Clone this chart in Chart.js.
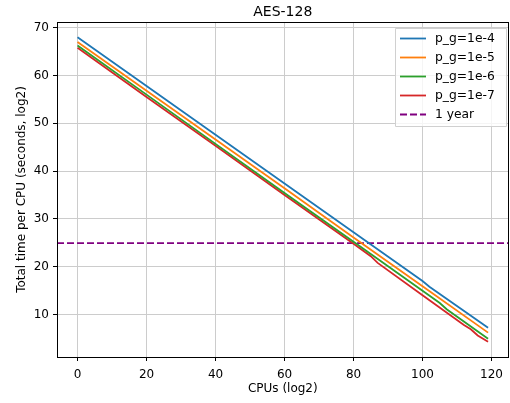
<!DOCTYPE html>
<html>
<head>
<meta charset="utf-8">
<script src="https://cdn.jsdelivr.net/npm/chart.js@4.4.0/dist/chart.umd.min.js"></script>
<style>
  html, body { margin: 0; padding: 0; background: #fff; }
  #wrap { width: 510px; height: 403px; }
</style>
</head>
<body>
<div id="wrap"><canvas id="myChart" width="510" height="403"></canvas></div>
<script>
// values
var labels = ['p_g=1e-4', 'p_g=1e-5', 'p_g=1e-6', 'p_g=1e-7']
var colors = ['#1f77b4', '#ff7f0e', '#2ca02c', '#d62728']

var blueX = [0, 20, 40, 60, 80, 100, 102, 119]
var blueY = [68.0, 57.8, 47.6, 37.4, 27.2, 17.0, 15.8, 7.2]

var orangeX = [0, 20, 40, 60, 80, 100, 119]
var orangeY = [67.0, 56.8, 46.6, 36.4, 26.1, 15.9, 6.2]

var greenX = [0, 20, 40, 60, 80, 105, 107, 119]
var greenY = [66.3, 56.0, 45.7, 35.4, 25.2, 12.4, 11.1, 4.9]

var redX = [0, 20, 40, 60, 80, 85, 87, 100, 112, 114, 116, 119]
var redY = [65.8, 55.5, 45.3, 35.0, 24.8, 22.2, 20.8, 14.0, 7.8, 6.9, 5.6, 4.3]

var yearLabel = '1 year'
var yearValue = 24.91   // log2(seconds in a year)

var xTicks = [0, 20, 40, 60, 80, 100, 120]
var yTicks = [10, 20, 30, 40, 50, 60, 70]

var xMin = -5.95, xMax = 124.95
var yMin = 1.1, yMax = 71.2

var chartTitle = 'AES-128'

function pts(xs, ys) {
	var out = []
	for (var i = 0; i < xs.length; i++) {
		out.push({ x: xs[i], y: ys[i] })
	}
	return out
}

var seriesX = [blueX, orangeX, greenX, redX]
var seriesY = [blueY, orangeY, greenY, redY]
var datasets = []
for (var i = 0; i < labels.length; i++) {
	datasets.push({
		label: labels[i],
		data: pts(seriesX[i], seriesY[i]),
		borderColor: colors[i],
		backgroundColor: colors[i],
		borderWidth: 1.8,
		pointRadius: 0,
		tension: 0
	})
}
datasets.push({
	label: yearLabel,
	data: [{ x: xMin, y: yearValue }, { x: xMax, y: yearValue }],
	borderColor: '#800080',
	backgroundColor: '#800080',
	borderWidth: 1.8,
	borderDash: [7, 3],
	pointRadius: 0
})

var FONT = "'DejaVu Sans', sans-serif"

// frame around the plot, title over the plot, legend box in the upper right
var framePlugin = {
	id: 'frame',
	afterDraw: function(chart) {
		var c = chart.ctx
		var a = chart.chartArea
		c.save()
		c.strokeStyle = '#000'
		c.lineWidth = 1
		c.strokeRect(Math.round(a.left) + 0.5, Math.round(a.top) + 0.5,
			Math.round(a.right - a.left) - 1, Math.round(a.bottom - a.top))

		c.fillStyle = '#000'
		c.font = '14px ' + FONT
		c.textAlign = 'center'
		c.textBaseline = 'middle'
		c.fillText(chartTitle, (a.left + a.right) / 2, 12)
		c.textAlign = 'left'

		// legend
		var bx = 395.5, by = 28.5, bw = 111, bh = 98
		c.fillStyle = 'rgba(255,255,255,0.8)'
		c.strokeStyle = '#d0d0d0'
		c.lineWidth = 1
		c.beginPath()
		c.rect(bx, by, bw, bh)
		c.fill()
		c.stroke()
		c.font = '12.3px ' + FONT
		var ds = chart.data.datasets
		for (var k = 0; k < ds.length; k++) {
			var yy = 38.5 + k * 19
			c.strokeStyle = ds[k].borderColor
			c.lineWidth = 1.8
			c.setLineDash(ds[k].borderDash || [])
			c.beginPath()
			c.moveTo(400, yy)
			c.lineTo(426, yy)
			c.stroke()
			c.setLineDash([])
			c.fillStyle = '#000'
			c.fillText(ds[k].label, 435, yy)
		}
		c.restore()
	}
}

function keepTicks(list) {
	return function(axis) {
		axis.ticks = list.map(function(v) { return { value: v } })
	}
}

var ctx = document.getElementById('myChart')
window.myChart = new Chart(ctx, {
	type: 'line',
	data: { datasets: datasets },
	plugins: [framePlugin],
	options: {
		responsive: false,
		animation: false,
		layout: { padding: { right: 1, left: 0, top: 22, bottom: 0 } },
		plugins: {
			legend: { display: false },
			tooltip: { enabled: false },
			title: { display: false }
		},
		scales: {
			x: {
				type: 'linear',
				min: xMin,
				max: xMax,
				afterBuildTicks: keepTicks(xTicks),
				afterFit: function(s) { s.height = 46 },
				grid: { color: '#cccccc', lineWidth: 1, tickColor: '#000', tickLength: 4 },
				border: { display: false },
				ticks: { color: '#000', font: { family: FONT, size: 12 }, padding: 7, maxRotation: 0 },
				title: {
					display: true, text: 'CPUs (log2)', color: '#000',
					font: { family: FONT, size: 12 }, padding: { top: 2, bottom: 7 }
				}
			},
			y: {
				type: 'linear',
				min: yMin,
				max: yMax,
				afterBuildTicks: keepTicks(yTicks),
				afterFit: function(s) { s.width = 57 },
				grid: { color: '#cccccc', lineWidth: 1, tickColor: '#000', tickLength: 4 },
				border: { display: false },
				ticks: { color: '#000', font: { family: FONT, size: 12 }, padding: 4 },
				title: {
					display: true, text: 'Total time per CPU (seconds, log2)', color: '#000',
					font: { family: FONT, size: 12 }, padding: { top: 15, bottom: 4 }
				}
			}
		}
	}
})
</script>
</body>
</html>
